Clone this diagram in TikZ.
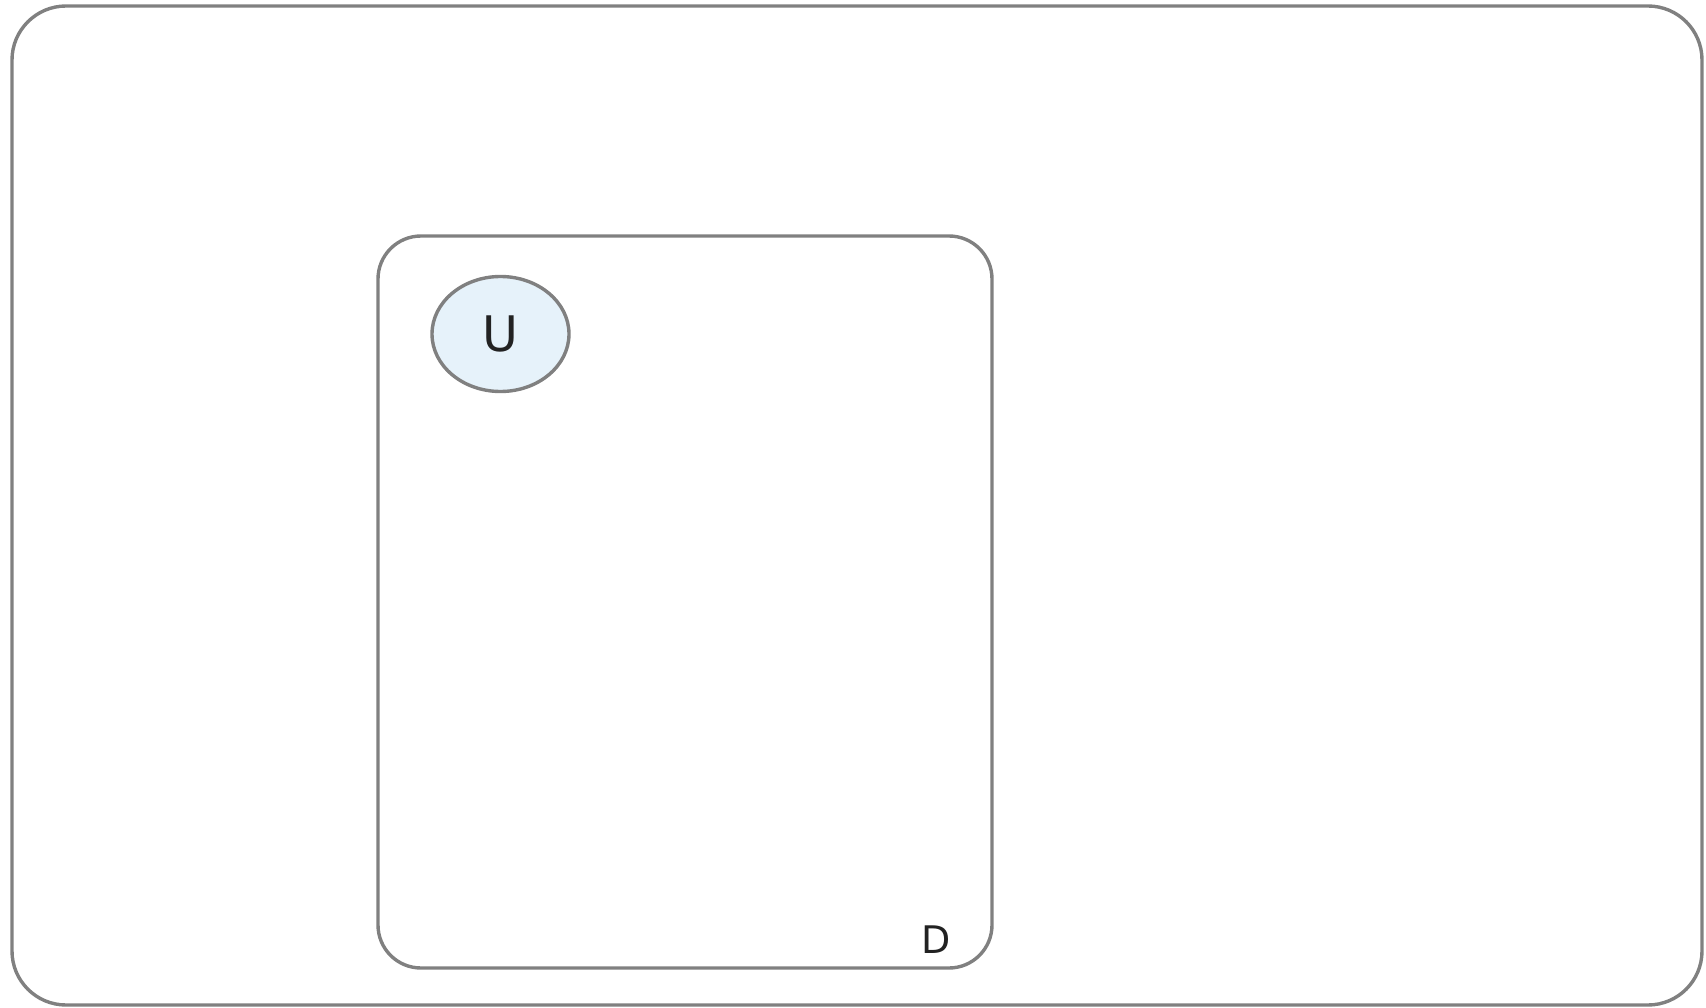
\documentclass[tikz,border=0pt]{standalone}
\usepackage{fontspec}
\setmainfont{DejaVu Sans}
\usetikzlibrary{shapes.geometric}
\definecolor{edgegray}{HTML}{808080}
\definecolor{ufill}{HTML}{E6F2FA}
\definecolor{txt}{HTML}{222222}
\begin{document}
\begin{tikzpicture}[x=1pt,y=-1pt,
  frame/.style={draw=edgegray,line width=3.4pt},
  lbl/.style={text=txt,inner sep=0pt}]
\useasboundingbox (0,0) rectangle (1706,1008);
\draw[frame,rounded corners=54pt] (12,6) rectangle (1702,1005);
\draw[frame,rounded corners=43pt] (378,236) rectangle (992,968);
\node[frame,ellipse,fill=ufill,minimum width=137pt,minimum height=115pt,inner sep=0pt] (U) at (500.5,334) {};
\node[lbl,font=\fontsize{49}{49}\selectfont] (Ut) at (U.center) {U};
\node[lbl,font=\fontsize{38}{38}\selectfont] (D) at (936,940) {D};
\end{tikzpicture}
\end{document}
